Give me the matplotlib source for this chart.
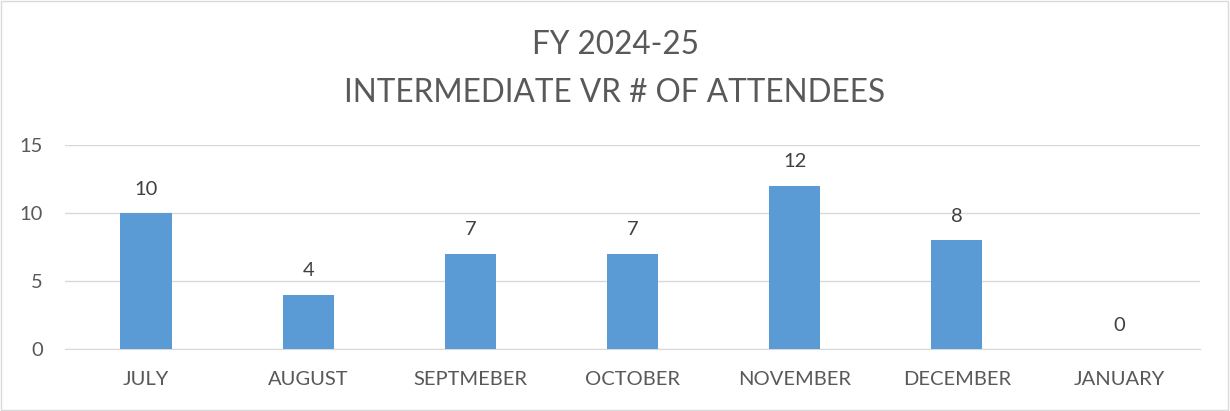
import matplotlib
matplotlib.use("Agg")
import matplotlib.pyplot as plt
from matplotlib.patches import Rectangle

# Datos del grafico
months = ['JULY', 'AUGUST', 'SEPTMEBER', 'OCTOBER', 'NOVEMBER', 'DECEMBER', 'JANUARY']
attendees = [10, 4, 7, 7, 12, 8, 0]
title_lines = ['FY 2024-25', 'INTERMEDIATE VR # OF ATTENDEES']

bar_color = '#5B9BD5'
text_color = '#595959'
grid_color = '#D9D9D9'

plt.rcParams['font.family'] = ['Lato', 'DejaVu Sans']

fig = plt.figure(figsize=(12.3, 4.11), dpi=100)
ax = fig.add_axes([0.0528, 0.1509, 0.9228, 0.4964])

x = range(len(months))
bars = ax.bar(x, attendees, width=0.315, color=bar_color, zorder=3)

# Etiquetas de datos
for xi, v in zip(x, attendees):
    ax.annotate(str(v), (xi, v), xytext=(0, 11), textcoords='offset points',
                ha='center', va='bottom', fontsize=14.5, color='#404040')

ax.set_xlim(-0.5, len(months) - 0.5)
ax.set_ylim(0, 15)
ax.set_yticks([0, 5, 10, 15])
ax.set_xticks(list(x))
ax.set_xticklabels(months)
ax.tick_params(axis='both', length=0, labelsize=14.5, labelcolor=text_color)
ax.tick_params(axis='x', pad=16)
ax.tick_params(axis='y', pad=16)
ax.yaxis.grid(True, color=grid_color, linewidth=1, zorder=0)

for s in ['top', 'right', 'left']:
    ax.spines[s].set_visible(False)
ax.spines['bottom'].set_color(grid_color)

# Titulo en dos lineas
fig.text(0.5, 0.89, title_lines[0], ha='center', va='center', fontsize=22.7, color=text_color)
fig.text(0.5, 0.773, title_lines[1], ha='center', va='center', fontsize=22.7, color=text_color)

# Marco exterior
fig.patches.append(Rectangle((0.001, 0.002), 0.997, 0.995, transform=fig.transFigure,
                             fill=False, edgecolor='#D9D9D9', linewidth=1))

fig.savefig('out.png', dpi=100)
